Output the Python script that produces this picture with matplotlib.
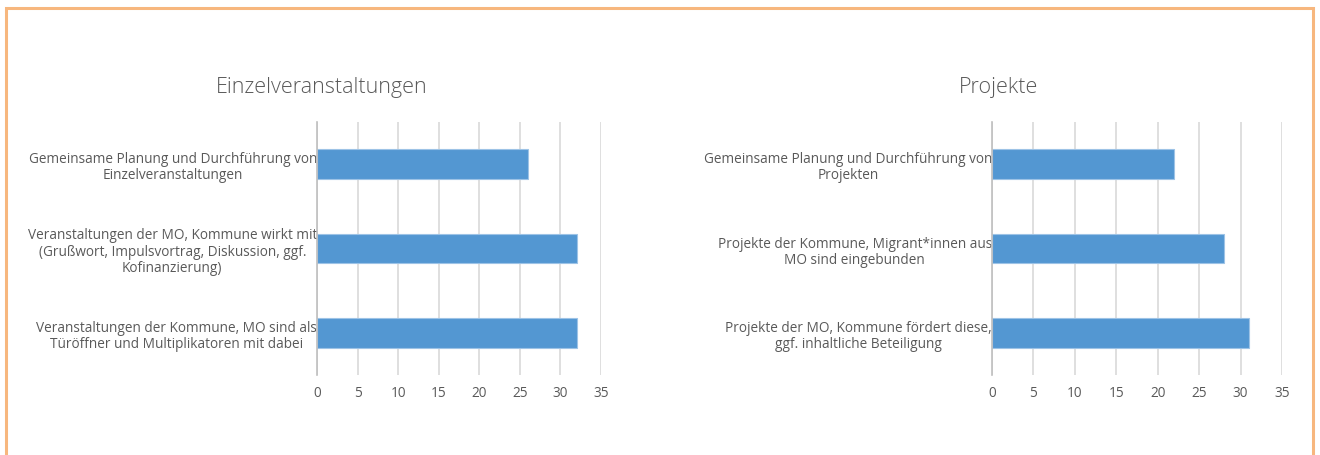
import matplotlib
matplotlib.use("Agg")
import matplotlib.pyplot as plt
from matplotlib.patches import Rectangle

plt.rcParams['font.family'] = ['Open Sans', 'DejaVu Sans']

left_title = "Einzelveranstaltungen"
left_categories = [
    "Gemeinsame Planung und Durchführung von\nEinzelveranstaltungen",
    "Veranstaltungen der MO, Kommune wirkt mit\n(Grußwort, Impulsvortrag, Diskussion, ggf.\nKofinanzierung)",
    "Veranstaltungen der Kommune, MO sind als\nTüröffner und Multiplikatoren mit dabei",
]
left_values = [26, 32, 32]

right_title = "Projekte"
right_categories = [
    "Gemeinsame Planung und Durchführung von\nProjekten",
    "Projekte der Kommune, Migrant*innen aus\nMO sind eingebunden",
    "Projekte der MO, Kommune fördert diese,\nggf. inhaltliche Beteiligung",
]
right_values = [22, 28, 31]

x_ticks = [0, 5, 10, 15, 20, 25, 30, 35]

W, H = 1320, 456
fig = plt.figure(figsize=(W / 100, H / 100), dpi=100)
fig.patch.set_facecolor('white')

text_color = '#595959'
grid_color = '#D9D9D9'
bar_color = '#5397D2'


def make_panel(rect, cats, vals, title, title_x):
    ax = fig.add_axes(rect)
    y = list(range(len(cats)))
    ax.barh(y, vals, height=0.35, color=bar_color, edgecolor='#9DC3E6',
            linewidth=0.8, zorder=3)
    ax.set_ylim(len(cats) - 0.5, -0.5)
    ax.set_xlim(0, 35)
    ax.set_xticks(x_ticks)
    ax.set_xticklabels([str(t) for t in x_ticks], color=text_color, fontsize=9.8)
    ax.set_yticks(y)
    ax.set_yticklabels(cats, color=text_color, fontsize=9.8,
                       multialignment='center', linespacing=1.1)
    ax.tick_params(axis='both', length=0)
    ax.tick_params(axis='x', pad=7)
    ax.tick_params(axis='y', pad=0)
    ax.grid(axis='x', color=grid_color, linewidth=1.2, zorder=0)
    for s in ['top', 'right', 'bottom']:
        ax.spines[s].set_visible(False)
    ax.spines['left'].set_color('#BFBFBF')
    ax.spines['left'].set_linewidth(1.2)
    ax.spines['left'].set_zorder(4)
    ax.set_facecolor('none')
    fig.text(title_x, 1 - 88 / H, title, ha='center', va='center',
             fontsize=15.5, color=text_color, fontweight='light')
    return ax


make_panel([317 / W, 1 - 376 / H, (601 - 317) / W, (376 - 123) / H],
           left_categories, left_values, left_title, 322 / W)
make_panel([992 / W, 1 - 376 / H, (1282 - 992) / W, (376 - 123) / H],
           right_categories, right_values, right_title, 999 / W)

border = Rectangle((6 / W, -0.2), (1313 - 6) / W, 1 - 9 / H + 0.2,
                   transform=fig.transFigure, fill=False,
                   edgecolor='#F7B77E', linewidth=2.2, clip_on=False)
fig.patches.append(border)

fig.savefig('out.png', dpi=100, facecolor='white')
